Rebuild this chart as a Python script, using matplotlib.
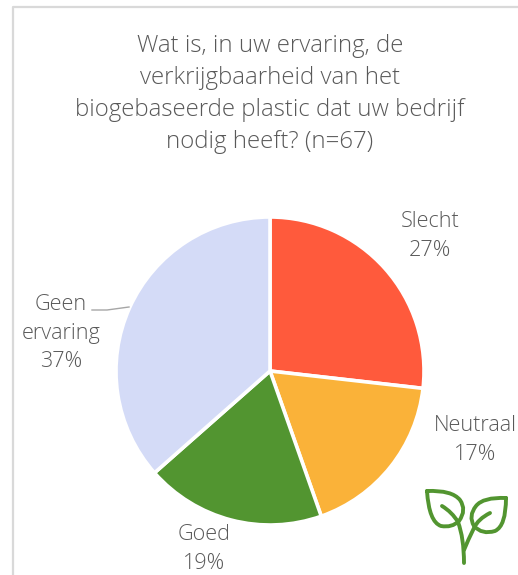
import matplotlib
matplotlib.use("Agg")
import matplotlib.pyplot as plt
from matplotlib.path import Path
from matplotlib.patches import PathPatch

categories = ["Slecht", "Neutraal", "Goed", "Geen\nervaring"]
values = [26.8, 17.8, 18.9, 36.5]
percent_labels = ["27%", "17%", "19%", "37%"]
colors = ["#ff5a3c", "#fab239", "#529530", "#d4dbf7"]
title = "Wat is, in uw ervaring, de\nverkrijgbaarheid van het\nbiogebaseerde plastic dat uw bedrijf\nnodig heeft? (n=67)"
label_pos = [(430, 236), (475, 440), (204, 549), (61, 333)]

TEXT = "#595959"
GREEN = "#529530"

plt.rcParams["font.family"] = ["Open Sans", "DejaVu Sans"]

fig = plt.figure(figsize=(5.18, 5.75), dpi=100)
ax = fig.add_axes([0, 0, 1, 1])

# pie, going clockwise from the top
ax.pie(
    values,
    colors=colors,
    startangle=90,
    counterclock=False,
    center=(270, -371),
    radius=154,
    wedgeprops={"edgecolor": "white", "linewidth": 2.6},
    frame=True,
)
ax.set_xlim(0, 518)
ax.set_ylim(-575, 0)
ax.axis("off")

# chart frame
ax.plot([13, 13, 518], [-575, -6.5, -6.5], color="#d9d9d9", lw=1.6, clip_on=False)

ax.text(270, -94, title, ha="center", va="center", fontsize=17.3, color=TEXT,
        fontweight="light", linespacing=1.46)

for name, pct, pos in zip(categories, percent_labels, label_pos):
    ax.text(pos[0], -pos[1], f"{name}\n{pct}", ha="center", va="center",
            fontsize=15.6, color=TEXT, fontweight="light", linespacing=1.47)

# leader line for Geen ervaring
ax.plot([92, 107, 129], [-310, -310, -307], color="#a6a6a6", lw=1)


def stroke(points):
    codes = [Path.MOVETO] + [Path.CURVE3] * (len(points) - 1)
    ax.add_patch(PathPatch(Path([(x, -y) for x, y in points], codes), fill=False,
                           edgecolor=GREEN, lw=2.8, capstyle="round", joinstyle="round"))


# plant icon
stroke([(427, 491), (452, 490), (460, 500), (467, 510), (459, 521), (452, 528), (441, 526), (429, 522), (427, 491)])
stroke([(506, 498), (483, 497), (476, 506), (468, 516), (474, 526), (482, 535), (495, 531), (506, 526), (506, 498)])
stroke([(442, 506), (452, 512), (458, 522), (464, 538), (464, 563)])
stroke([(490, 513), (478, 519), (474, 528), (468, 540), (464, 550)])

fig.savefig("out.png", dpi=100)
